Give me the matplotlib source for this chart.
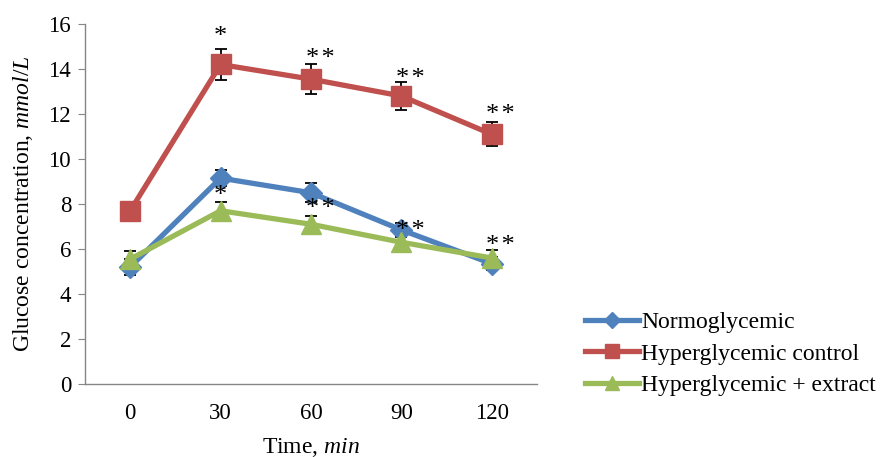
#!/usr/bin/env python3
"""Glucose concentration over time for three groups (line chart with error bars)."""

import matplotlib
matplotlib.use('Agg')
import matplotlib.pyplot as plt

# Data
times = ['0', '30', '60', '90', '120']

normo = [5.2, 9.15, 8.5, 6.85, 5.35]
normo_err = [0.35, 0.37, 0.42, 0.3, 0.3]

hyper = [7.7, 14.2, 13.55, 12.8, 11.1]
hyper_err = [0.0, 0.7, 0.68, 0.62, 0.53]

extract = [5.55, 7.7, 7.1, 6.3, 5.6]
extract_err = [0.35, 0.37, 0.35, 0.3, 0.35]

# significance marks: (category index, y value, text)
stars_upper = [(1, 15.4, '*'), (2, 14.45, '**'), (3, 13.55, '**'), (4, 11.95, '**')]
stars_lower = [(1, 8.35, '*'), (2, 7.8, '**'), (3, 6.8, '**'), (4, 6.15, '**')]

BLUE = '#4F81BD'
RED = '#C0504D'
GREEN = '#9BBB59'
AXIS = '#868686'

plt.rcParams['font.family'] = ['Liberation Serif', 'DejaVu Serif']
plt.rcParams['mathtext.fontset'] = 'custom'
plt.rcParams['mathtext.rm'] = 'Liberation Serif'
plt.rcParams['mathtext.it'] = 'Liberation Serif:italic'


def main():
    fig = plt.figure(figsize=(8.83, 4.57), dpi=100)
    ax = fig.add_axes([0.0963, 0.1597, 0.5117, 0.7878])
    x = list(range(len(times)))

    err_kw = dict(ecolor='black', elinewidth=1.3, capsize=4.3, capthick=1.3, zorder=2)
    ax.errorbar(x, normo, yerr=normo_err, fmt='none', **err_kw)
    ax.errorbar(x, hyper, yerr=hyper_err, fmt='none', **err_kw)
    ax.errorbar(x, extract, yerr=extract_err, fmt='none', **err_kw)

    ax.plot(x, normo, '-D', color=BLUE, lw=3.8, markersize=11.5, label='Normoglycemic', zorder=3)
    ax.plot(x, hyper, '-s', color=RED, lw=3.8, markersize=14, label='Hyperglycemic control', zorder=3)
    ax.plot(x, extract, '-^', color=GREEN, lw=3.8, markersize=14, label='Hyperglycemic + extract', zorder=4)

    for i, y, s in stars_upper + stars_lower:
        dx = 0.0 if len(s) == 1 else 0.1
        ax.text(i + dx, y, '\u200a'.join(s), ha='center', va='center', fontsize=19, zorder=5)

    ax.set_xlim(-0.5, 4.5)
    ax.set_ylim(0, 16)
    ax.set_yticks(range(0, 17, 2))
    ax.set_xticks(x)
    ax.set_xticklabels(times)
    ax.tick_params(axis='x', length=0, pad=14, labelsize=16.5)
    ax.tick_params(axis='y', length=5, color=AXIS, labelsize=16.5, pad=5)

    for side in ('top', 'right'):
        ax.spines[side].set_visible(False)
    for side in ('left', 'bottom'):
        ax.spines[side].set_color(AXIS)
        ax.spines[side].set_linewidth(1.0)

    ax.set_xlabel('Time, $\\it{min}$', fontsize=17, labelpad=8)
    ax.set_ylabel('Glucose concentration, $\\it{mmol/L}$', fontsize=17, labelpad=10)

    fig.legend(loc='center left', bbox_to_anchor=(0.662, 0.2254), frameon=False,
               fontsize=17, handlelength=2.3, handletextpad=0.1, markerscale=0.75,
               labelspacing=0.42, borderaxespad=0, borderpad=0)

    fig.savefig('out.png', dpi=100, facecolor='white')
    plt.close(fig)


if __name__ == '__main__':
    main()
